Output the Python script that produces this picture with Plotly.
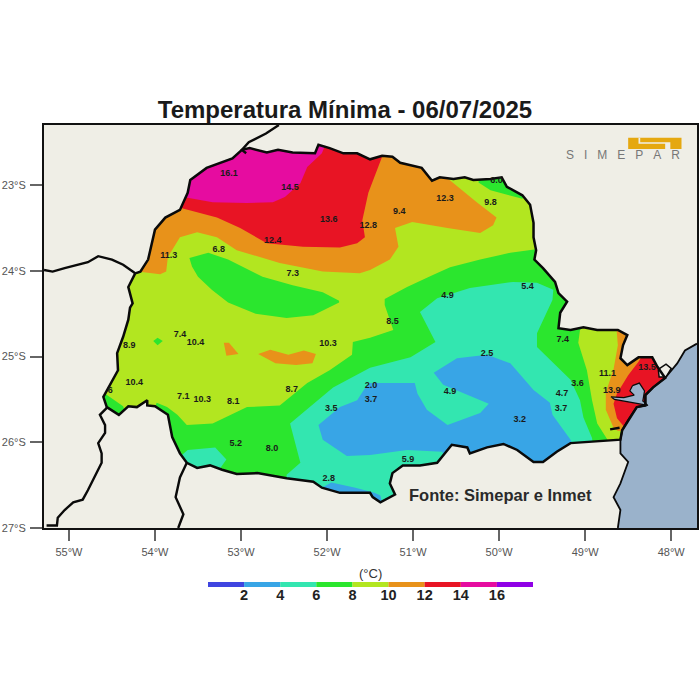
import plotly.graph_objects as go

# colours of the temperature classes, coldest first
class_colors = ["#3F45E0", "#38A5E6", "#33E6B0", "#2BE62E", "#B2E620",
                "#E8921A", "#E81424", "#E60CA0", "#8F00E6"]
class_mid = [1, 3, 5, 7, 9, 11, 13, 15, 17]
class_ticks = [2, 4, 6, 8, 10, 12, 14, 16]
land = "#EFEEE6"
sea = "#9AB2CB"

lon_ticks = [-55, -54, -53, -52, -51, -50, -49, -48]
lon_labels = ["55°W", "54°W", "53°W", "52°W", "51°W", "50°W", "49°W", "48°W"]
lat_ticks = [-23, -24, -25, -26, -27]
lat_labels = ["23°S", "24°S", "25°S", "26°S", "27°S"]

# state outline
pr_lon = [-54.23, -54.17, -54.08, -54.00, -53.88, -53.71, -53.62, -53.59, -53.40, -53.10, -52.99, -52.90,
          -52.70, -52.57, -52.40, -52.23, -52.14, -52.10, -51.97, -51.81, -51.65, -51.50, -51.36, -51.24,
          -51.15, -50.90, -50.78, -50.69, -50.53, -50.40, -50.30, -50.10, -49.97, -49.91, -49.73, -49.64,
          -49.60, -49.60, -49.57, -49.59, -49.49, -49.35, -49.31, -49.21, -49.29, -49.31, -49.17, -49.02,
          -48.86, -48.62, -48.51, -48.56, -48.59, -48.51, -48.38, -48.22, -48.16, -48.07, -48.21, -48.30,
          -48.30, -48.40, -48.50, -48.57, -48.59, -48.98, -49.17, -49.33, -49.49, -49.60, -49.79, -49.95,
          -50.14, -50.34, -50.37, -50.55, -50.65, -50.72, -50.92, -51.12, -51.24, -51.27, -51.21, -51.38,
          -51.47, -51.50, -51.85, -52.06, -52.16, -52.47, -52.81, -53.05, -53.22, -53.36, -53.51, -53.63,
          -53.71, -53.80, -53.85, -54.00, -54.09, -54.09, -54.21, -54.31, -54.42, -54.56, -54.60, -54.43,
          -54.44, -54.37, -54.31, -54.29, -54.26, -54.31, -54.23]
pr_lat = [-24.03, -24.01, -23.87, -23.52, -23.38, -23.29, -23.09, -22.94, -22.80, -22.69, -22.59, -22.57,
          -22.62, -22.59, -22.62, -22.63, -22.63, -22.53, -22.57, -22.63, -22.63, -22.70, -22.66, -22.67,
          -22.74, -22.80, -22.95, -22.91, -22.93, -22.91, -22.94, -22.93, -22.91, -23.02, -23.12, -23.23,
          -23.44, -23.61, -23.76, -23.87, -23.97, -24.13, -24.26, -24.36, -24.49, -24.67, -24.69, -24.66,
          -24.69, -24.69, -24.75, -24.87, -25.02, -25.10, -25.01, -25.01, -25.12, -25.25, -25.36, -25.45,
          -25.57, -25.59, -25.74, -25.86, -25.97, -26.00, -26.01, -26.11, -26.23, -26.23, -26.09, -26.02,
          -26.06, -26.13, -26.06, -26.03, -26.15, -26.24, -26.27, -26.27, -26.36, -26.48, -26.61, -26.70,
          -26.64, -26.59, -26.59, -26.53, -26.46, -26.42, -26.36, -26.37, -26.32, -26.27, -26.30, -26.24,
          -26.13, -25.94, -25.68, -25.58, -25.57, -25.51, -25.59, -25.58, -25.68, -25.59, -25.47, -25.16,
          -24.96, -24.77, -24.57, -24.43, -24.38, -24.19, -24.03]

# contour bands, they run past the border and the land mask trims them
orange_n_lon = [-54.27, -53.94, -53.87, -53.85, -53.71, -53.51, -53.28, -53.05, -52.55, -52.05, -51.62, -51.50,
                -51.27, -51.17, -51.21, -51.01, -50.60, -50.22, -50.07, -50.03, -50.26, -50.59, -50.59, -51.0,
                -52.5, -53.8, -54.3]
orange_n_lat = [-24.00, -24.04, -24.01, -23.84, -23.61, -23.55, -23.61, -23.76, -23.91, -24.01, -24.03, -23.99,
                -23.87, -23.72, -23.50, -23.43, -23.50, -23.56, -23.47, -23.38, -23.20, -22.93, -22.77, -22.4,
                -22.4, -22.9, -23.5]
red_n_lon = [-53.73, -53.28, -53.01, -52.70, -52.28, -51.85, -51.65, -51.56, -51.59, -51.52, -51.36, -51.36,
             -53.0, -53.7]
red_n_lat = [-23.26, -23.38, -23.50, -23.68, -23.72, -23.73, -23.68, -23.61, -23.41, -23.09, -22.67, -22.45,
             -22.4, -23.0]
magenta_lon = [-53.67, -53.33, -52.93, -52.63, -52.49, -52.31, -52.23, -52.06, -52.02, -52.02, -53.0, -53.8]
magenta_lat = [-23.14, -23.20, -23.21, -23.20, -23.14, -22.98, -22.79, -22.63, -22.53, -22.35, -22.35, -22.9]
green_ne_lon = [-50.24, -50.10, -49.73, -49.5, -50.2]
green_ne_lat = [-22.97, -23.06, -23.16, -22.8, -22.7]
green_oval_lon = [-53.60, -53.38, -53.15, -52.75, -52.40, -52.05, -51.86, -51.86, -52.16, -52.47, -52.83, -53.15,
                  -53.34, -53.50, -53.57]
green_oval_lat = [-23.85, -23.79, -23.87, -24.07, -24.17, -24.25, -24.35, -24.37, -24.52, -24.55, -24.50, -24.37,
                  -24.22, -24.07, -23.95]
green_dot_lon = [-54.02, -53.97, -53.91, -53.97]
green_dot_lat = [-24.82, -24.78, -24.82, -24.87]
green_sw_lon = [-54.63, -54.57, -54.37, -54.33, -54.63]
green_sw_lat = [-25.40, -25.44, -25.58, -25.70, -25.70]
# main 6-8 band
green_lon = [-49.57, -49.87, -50.22, -50.57, -50.77, -51.07, -51.33, -51.33, -51.23, -51.50, -51.70, -51.71,
             -51.97, -52.23, -52.55, -52.93, -53.33, -53.63, -53.74, -53.86, -53.98, -54.06, -53.83, -52.31,
             -51.15, -48.83, -48.69, -48.74, -48.86, -48.92, -48.98, -49.08, -49.06, -48.94, -49.12, -49.29,
             -49.47]
green_lat = [-23.75, -23.79, -23.87, -23.96, -24.05, -24.19, -24.33, -24.40, -24.69, -24.78, -24.83, -24.98,
             -25.16, -25.31, -25.57, -25.59, -25.78, -25.80, -25.68, -25.59, -25.54, -25.74, -26.32, -26.67,
             -26.91, -26.32, -26.03, -25.97, -25.78, -25.51, -25.16, -24.84, -24.69, -24.57, -24.34, -23.87,
             -23.70]
teal_lon = [-50.92, -50.72, -50.34, -49.84, -49.56, -49.37, -49.38, -49.56, -49.56, -49.37, -49.17, -49.06,
            -49.02, -48.92, -48.88, -51.15, -52.47, -52.47, -52.31, -52.43, -51.93, -51.50, -51.03, -50.74]
teal_lat = [-24.48, -24.32, -24.20, -24.13, -24.14, -24.22, -24.34, -24.73, -24.89, -25.08, -25.27, -25.51,
            -25.71, -25.95, -26.32, -26.90, -26.67, -26.38, -26.24, -25.78, -25.36, -25.13, -25.01, -24.83]
teal_sw_lon = [-53.71, -53.62, -53.30, -53.17, -53.24, -53.32, -53.73, -53.78]
teal_sw_lat = [-26.17, -26.09, -26.06, -26.20, -26.30, -26.42, -26.42, -26.17]
blue_lon = [-51.50, -50.98, -50.95, -50.84, -50.60, -50.22, -50.12, -50.37, -50.65, -50.76, -50.49, -50.14,
            -49.87, -49.60, -49.41, -49.38, -49.17, -49.12, -49.52, -50.57, -50.66, -51.07, -51.50, -51.77,
            -52.05, -52.10, -51.85, -51.65, -51.56]
blue_lat = [-25.31, -25.31, -25.43, -25.62, -25.80, -25.66, -25.55, -25.45, -25.33, -25.19, -25.02, -24.98,
            -25.08, -25.39, -25.54, -25.68, -25.97, -26.09, -26.38, -26.38, -26.11, -26.09, -26.15, -26.16,
            -25.97, -25.80, -25.59, -25.51, -25.37]
blue_s_lon = [-52.06, -51.95, -51.67, -51.45, -51.38, -51.35, -51.5, -52.1]
blue_s_lat = [-26.53, -26.47, -26.53, -26.59, -26.62, -26.75, -26.75, -26.65]
orange_a_lon = [-53.20, -53.14, -53.03, -53.17]
orange_a_lat = [-24.84, -24.84, -24.97, -24.99]
orange_b_lon = [-52.80, -52.66, -52.45, -52.27, -52.13, -52.17, -52.36, -52.60]
orange_b_lat = [-24.97, -24.92, -24.98, -24.93, -24.97, -25.08, -25.10, -25.08]
orange_e_lon = [-48.64, -48.62, -48.67, -48.76, -48.76, -48.67, -48.62, -48.52, -47.90, -48.10]
orange_e_lat = [-24.62, -24.87, -25.15, -25.42, -25.62, -25.83, -25.87, -25.87, -25.50, -24.60]
red_e_lon = [-48.33, -48.38, -48.50, -48.63, -48.67, -48.63, -48.52, -48.43, -47.70, -47.95, -48.20]
red_e_lat = [-24.98, -25.06, -25.22, -25.43, -25.55, -25.72, -25.85, -25.90, -25.40, -24.90, -24.85]

# water
ocean_lon = [-47.70, -47.84, -47.93, -48.07, -48.21, -48.30, -48.30, -48.40, -48.50, -48.57, -48.59, -48.59,
             -48.50, -48.59, -48.67, -48.59, -48.62, -47.70]
ocean_lat = [-24.85, -24.93, -25.08, -25.25, -25.36, -25.45, -25.57, -25.59, -25.74, -25.86, -25.97, -26.13,
             -26.23, -26.48, -26.64, -26.79, -27.00, -27.00]
bay_lon = [-48.45, -48.37, -48.31, -48.33, -48.27, -48.37, -48.49, -48.66, -48.70, -48.55, -48.43, -48.48]
bay_lat = [-25.34, -25.31, -25.40, -25.52, -25.57, -25.55, -25.53, -25.50, -25.47, -25.48, -25.45, -25.40]
cove_lon = [-48.15, -48.06, -48.00, -48.06, -48.14]
cove_lat = [-25.15, -25.09, -25.14, -25.24, -25.24]
guaratuba_lon = [-48.71, -48.60]
guaratuba_lat = [-25.85, -25.83]

# neighbouring borders
border_py_lon = [-54.23, -54.37, -54.50, -54.66, -54.78, -54.91, -55.05, -55.19, -55.29]
border_py_lat = [-24.03, -23.93, -23.87, -23.83, -23.90, -23.93, -23.97, -24.01, -23.99]
border_ms_lon = [-52.56, -52.71, -52.91, -52.99, -52.94]
border_ms_lat = [-22.30, -22.40, -22.50, -22.59, -22.63]
border_ar_lon = [-54.56, -54.64, -54.58, -54.58, -54.66, -54.62, -54.62, -54.70, -54.78, -54.84, -54.95, -55.05,
                 -55.13, -55.14, -55.26]
border_ar_lat = [-25.60, -25.68, -25.80, -25.89, -26.01, -26.13, -26.24, -26.41, -26.56, -26.67, -26.70, -26.79,
                 -26.88, -26.97, -26.97]
border_sc_lon = [-53.63, -53.71, -53.76, -53.67, -53.73]
border_sc_lat = [-26.24, -26.41, -26.64, -26.84, -27.00]

# station values
station_lon = [-53.14, -52.43, -51.98, -51.52, -52.63, -53.84, -53.26, -52.40, -51.16, -50.63, -50.10, -50.03,
               -50.60, -49.67, -51.24, -53.71, -53.53, -54.30, -51.99, -50.14, -49.26, -54.24, -53.67, -53.45,
               -53.09, -52.41, -51.49, -51.49, -51.95, -50.57, -49.09, -49.27, -49.28, -49.76, -53.06, -52.64,
               -51.06, -51.98, -48.74, -48.69, -48.28, -54.52]
station_lat = [-22.87, -23.03, -23.41, -23.48, -23.65, -23.83, -23.75, -24.03, -23.31, -23.16, -23.21, -22.95,
               -24.29, -24.19, -24.59, -24.75, -24.84, -24.88, -24.85, -24.97, -24.80, -25.31, -25.47, -25.50,
               -25.53, -25.39, -25.34, -25.51, -25.61, -25.41, -25.32, -25.43, -25.61, -25.74, -26.02, -26.08,
               -26.20, -26.43, -25.20, -25.40, -25.13, -25.40]
station_val = ["16.1", "14.5", "13.6", "12.8", "12.4", "11.3", "6.8", "7.3", "9.4", "12.3", "9.8", "6.0",
               "4.9", "5.4", "8.5", "7.4", "10.4", "8.9", "10.3", "2.5", "7.4", "10.4", "7.1", "10.3",
               "8.1", "8.7", "2.0", "3.7", "3.5", "4.9", "3.6", "4.7", "3.7", "3.2", "5.2", "8.0",
               "5.9", "2.8", "11.1", "13.9", "13.5", "6"]

# logo block
logo_lon = [-48.50, -47.88, -47.88, -48.50]
logo_lat = [-22.45, -22.45, -22.58, -22.58]
logo_cut_lon = [-48.38, -48.36, -48.36, -48.01, -48.01, -48.07, -48.07, -48.38]
logo_cut_lat = [-22.45, -22.45, -22.50, -22.50, -22.58, -22.58, -22.52, -22.52]

fig = go.Figure()


def poly(lon, lat, color):
    fig.add_trace(go.Scatter(x=lon, y=lat, mode="lines", fill="toself", fillcolor=color,
                             line=dict(width=0, color=color), hoverinfo="skip", showlegend=False))


def line(lon, lat, width=2.4, color="#0A0A0A"):
    fig.add_trace(go.Scatter(x=lon, y=lat, mode="lines", line=dict(width=width, color=color),
                             hoverinfo="skip", showlegend=False))


poly(pr_lon, pr_lat, class_colors[4])
poly(green_lon, green_lat, class_colors[3])
poly(green_ne_lon, green_ne_lat, class_colors[3])
poly(green_oval_lon, green_oval_lat, class_colors[3])
poly(green_dot_lon, green_dot_lat, class_colors[3])
poly(green_sw_lon, green_sw_lat, class_colors[3])
poly(teal_lon, teal_lat, class_colors[2])
poly(teal_sw_lon, teal_sw_lat, class_colors[2])
poly(blue_lon, blue_lat, class_colors[1])
poly(blue_s_lon, blue_s_lat, class_colors[1])
poly(orange_n_lon, orange_n_lat, class_colors[5])
poly(orange_a_lon, orange_a_lat, class_colors[5])
poly(orange_b_lon, orange_b_lat, class_colors[5])
poly(orange_e_lon, orange_e_lat, class_colors[5])
poly(red_n_lon, red_n_lat, class_colors[6])
poly(red_e_lon, red_e_lat, class_colors[6])
poly(magenta_lon, magenta_lat, class_colors[7])

# everything outside the state gets covered by land, with a slit into the outline
mask_x = [-55.29, -47.70, -47.70, -55.29, -55.29] + pr_lon[::-1] + [-55.29]
mask_y = [-22.30, -22.30, -27.00, -27.00, -22.30] + pr_lat[::-1] + [-22.30]
poly(mask_x, mask_y, land)
poly(ocean_lon, ocean_lat, sea)
poly(bay_lon, bay_lat, sea)
poly(cove_lon, cove_lat, land)

line(border_py_lon, border_py_lat)
line(border_ms_lon, border_ms_lat)
line(border_ar_lon, border_ar_lat)
line(border_sc_lon, border_sc_lat)
line(ocean_lon[:-1], ocean_lat[:-1], width=1.8)
line(bay_lon + bay_lon[:1], bay_lat + bay_lat[:1], width=1.2)
line(cove_lon + cove_lon[:1], cove_lat + cove_lat[:1], width=1.5)
line(guaratuba_lon, guaratuba_lat, width=2.5)
line(pr_lon, pr_lat, width=2.5)

fig.add_trace(go.Scatter(x=station_lon, y=station_lat, mode="text", text=station_val,
                         textfont=dict(family="Liberation Sans", size=9, color="#1A1A1A", weight="bold"),
                         hoverinfo="skip", showlegend=False))

poly(logo_lon, logo_lat, "#E5A810")
poly(logo_cut_lon, logo_cut_lat, land)

# colour strip
fig.add_trace(go.Bar(x=class_mid, y=[1] * len(class_mid), width=2, marker=dict(color=class_colors, line=dict(width=0)),
                     xaxis="x2", yaxis="y2", hoverinfo="skip", showlegend=False))

fig.add_annotation(x=-51.07, y=-26.62, xref="x", yref="y", xanchor="left", showarrow=False,
                   text="Fonte: Simepar e Inmet",
                   font=dict(family="Liberation Sans", size=16.5, color="#2A2A2A", weight="bold"))
fig.add_annotation(x=-48.56, y=-22.65, xref="x", yref="y", showarrow=False,
                   text="S\u00a0\u00a0\u00a0I\u00a0\u00a0\u00a0M\u00a0\u00a0\u00a0E\u00a0\u00a0\u00a0P\u00a0\u00a0\u00a0A\u00a0\u00a0\u00a0R",
                   font=dict(family="Liberation Sans", size=12, color="#777777"))
fig.add_annotation(x=370 / 700, y=1 - 573 / 700, xref="paper", yref="paper", yanchor="middle", showarrow=False,
                   text="(°C)", font=dict(family="Liberation Sans", size=13, color="#333333"))

axis_font = dict(family="Liberation Sans", size=11, color="#555555")
fig.update_layout(
    width=700, height=700, margin=dict(l=0, r=0, t=0, b=0, autoexpand=False),
    paper_bgcolor="white", plot_bgcolor=land, showlegend=False,
    title=dict(text="Temperatura Mínima - 06/07/2025", x=345 / 700, xanchor="center", y=1 - 110 / 700, yanchor="middle",
               font=dict(family="Liberation Sans", size=24, color="#1A1A1A", weight="bold")),
    xaxis=dict(domain=[44 / 700, 697 / 700], range=[-55.29, -47.70], tickvals=lon_ticks, ticktext=lon_labels,
               ticks="outside", ticklen=11, tickwidth=1.5, tickcolor="#666666", tickfont=axis_font,
               ticklabelstandoff=2,
               showgrid=False, zeroline=False, showline=True, linecolor="#111111", linewidth=2, mirror=True),
    yaxis=dict(domain=[172 / 700, 575 / 700], range=[-27.0, -22.30], tickvals=lat_ticks, ticktext=lat_labels,
               ticks="outside", ticklen=12, tickwidth=1.5, tickcolor="#666666", tickfont=axis_font,
               ticklabelstandoff=2,
               showgrid=False, zeroline=False, showline=True, linecolor="#111111", linewidth=2, mirror=True),
    xaxis2=dict(domain=[208 / 700, 533 / 700], range=[0, 18], anchor="y2", tickvals=class_ticks,
                tickfont=dict(family="Liberation Sans", size=14.5, color="#222222", weight="bold"),
                ticklen=0, ticklabelstandoff=-3, showgrid=False, zeroline=False, showline=False),
    yaxis2=dict(domain=[113 / 700, 118 / 700], range=[0, 1], anchor="x2", visible=False),
)

fig.write_html("out.html", config={"displayModeBar": False}, post_script="document.body.style.margin='0';")
